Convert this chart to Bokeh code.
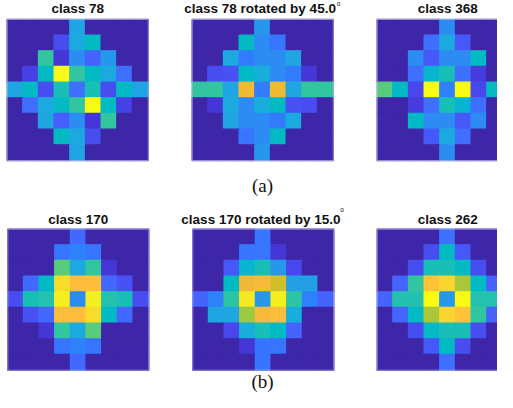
from bokeh.plotting import figure
from bokeh.models import Range1d, ColumnDataSource, LinearColorMapper, Label
from bokeh.transform import transform
from bokeh.embed import file_html
from bokeh.resources import INLINE

# ---------------- data ----------------
titles = ["class 78", "class 78 rotated by 45.0", "class 368",
          "class 170", "class 170 rotated by 15.0", "class 262"]
captions = ["(a)", "(b)"]

class_78 = [
    [0, 0, 0, 0, 0.39, 0, 0, 0, 0],
    [0, 0, 0, 0.14, 0.40, 0.48, 0, 0, 0],
    [0, 0, 0.56, 0.07, 0.31, 0.20, 0.34, 0, 0],
    [0, 0.10, 0.47, 1.0, 0.56, 0.48, 0.40, 0.22, 0],
    [0.39, 0.47, 0.14, 0.51, 0.22, 0.51, 0.14, 0.47, 0.39],
    [0, 0.22, 0.40, 0.48, 0.56, 1.0, 0.47, 0.10, 0],
    [0, 0, 0.38, 0.18, 0.31, 0.07, 0.56, 0, 0],
    [0, 0, 0, 0.48, 0.40, 0.14, 0, 0, 0],
    [0, 0, 0, 0, 0.39, 0, 0, 0, 0],
]
class_78_rot45 = [
    [0, 0, 0, 0, 0.33, 0, 0, 0, 0],
    [0, 0, 0, 0.48, 0.31, 0.24, 0, 0, 0],
    [0, 0, 0.40, 0.25, 0.30, 0.31, 0.38, 0, 0],
    [0, 0.14, 0.15, 0.47, 0.42, 0.31, 0.26, 0.07, 0],
    [0.56, 0.56, 0.39, 0.80, 0.25, 0.80, 0.39, 0.56, 0.56],
    [0, 0.07, 0.40, 0.31, 0.42, 0.47, 0.15, 0.14, 0],
    [0, 0, 0.38, 0.31, 0.30, 0.25, 0.40, 0, 0],
    [0, 0, 0, 0.24, 0.31, 0.48, 0, 0, 0],
    [0, 0, 0, 0, 0.33, 0, 0, 0, 0],
]
class_368 = [
    [0, 0, 0, 0, 0.31, 0, 0, 0, 0],
    [0, 0, 0, 0.22, 0.40, 0.17, 0, 0, 0],
    [0, 0, 0.31, 0.17, 0.31, 0.31, 0.47, 0, 0],
    [0, 0, 0.22, 0.45, 0.51, 0.22, 0.08, 0, 0],
    [0.61, 0.47, 0.12, 1.0, 0.27, 1.0, 0.12, 0.47, 0.61],
    [0, 0, 0.08, 0.22, 0.51, 0.45, 0.22, 0, 0],
    [0, 0, 0.47, 0.31, 0.31, 0.17, 0.31, 0, 0],
    [0, 0, 0, 0.17, 0.40, 0.22, 0, 0, 0],
    [0, 0, 0, 0, 0.31, 0, 0, 0, 0],
]
class_170 = [
    [0, 0, 0, 0, 0.21, 0, 0, 0, 0],
    [0, 0, 0, 0.24, 0.27, 0.24, 0, 0, 0],
    [0, 0, 0, 0.61, 0.40, 0.56, 0.07, 0, 0],
    [0, 0.21, 0.48, 0.92, 0.83, 0.83, 0.21, 0.15, 0],
    [0.14, 0.51, 0.53, 0.96, 0.31, 0.96, 0.53, 0.51, 0.14],
    [0, 0.15, 0.21, 0.83, 0.83, 0.92, 0.48, 0.21, 0],
    [0, 0, 0.07, 0.56, 0.40, 0.61, 0, 0, 0],
    [0, 0, 0, 0.24, 0.27, 0.24, 0, 0, 0],
    [0, 0, 0, 0, 0.21, 0, 0, 0, 0],
]
class_170_rot15 = [
    [0, 0, 0, 0, 0.24, 0, 0, 0, 0],
    [0, 0, 0, 0.24, 0.24, 0.07, 0, 0, 0],
    [0, 0, 0.17, 0.44, 0.51, 0.33, 0.12, 0, 0],
    [0, 0, 0.48, 0.80, 0.82, 0.76, 0.36, 0.37, 0],
    [0.20, 0.28, 0.54, 0.94, 0.33, 0.96, 0.54, 0.28, 0.20],
    [0, 0.38, 0.38, 0.70, 0.82, 0.83, 0.42, 0, 0],
    [0, 0, 0.12, 0.42, 0.51, 0.48, 0.20, 0, 0],
    [0, 0, 0, 0.07, 0.24, 0.24, 0, 0, 0],
    [0, 0, 0, 0, 0.24, 0, 0, 0, 0],
]
class_262 = [
    [0, 0, 0, 0, 0.22, 0, 0, 0, 0],
    [0, 0, 0, 0.14, 0.47, 0.16, 0, 0, 0],
    [0, 0, 0.14, 0.51, 0.50, 0.48, 0.14, 0, 0],
    [0, 0.20, 0.56, 0.85, 0.90, 0.71, 0.47, 0.20, 0],
    [0.20, 0.53, 0.53, 1.0, 0.33, 1.0, 0.53, 0.53, 0.20],
    [0, 0.20, 0.47, 0.71, 0.90, 0.85, 0.56, 0.20, 0],
    [0, 0, 0.14, 0.48, 0.50, 0.51, 0.14, 0, 0],
    [0, 0, 0, 0.16, 0.47, 0.14, 0, 0, 0],
    [0, 0, 0, 0, 0.22, 0, 0, 0, 0],
]
maps = [class_78, class_78_rot45, class_368, class_170, class_170_rot15, class_262]

# ---------------- style ----------------
parula_rgb = [
    (0.2422, 0.1504, 0.6603), (0.2504, 0.1650, 0.7076), (0.2578, 0.1818, 0.7511), (0.2647, 0.1978, 0.7952),
    (0.2706, 0.2147, 0.8364), (0.2751, 0.2342, 0.8710), (0.2783, 0.2559, 0.8991), (0.2803, 0.2782, 0.9221),
    (0.2813, 0.3006, 0.9414), (0.2810, 0.3228, 0.9579), (0.2795, 0.3447, 0.9717), (0.2760, 0.3667, 0.9829),
    (0.2699, 0.3892, 0.9906), (0.2602, 0.4123, 0.9952), (0.2440, 0.4358, 0.9988), (0.2206, 0.4603, 0.9973),
    (0.1963, 0.4847, 0.9892), (0.1834, 0.5074, 0.9798), (0.1786, 0.5289, 0.9682), (0.1764, 0.5499, 0.9520),
    (0.1687, 0.5703, 0.9359), (0.1540, 0.5902, 0.9218), (0.1460, 0.6091, 0.9079), (0.1380, 0.6276, 0.8973),
    (0.1248, 0.6459, 0.8883), (0.1113, 0.6635, 0.8763), (0.0952, 0.6798, 0.8598), (0.0689, 0.6948, 0.8394),
    (0.0297, 0.7082, 0.8163), (0.0036, 0.7203, 0.7917), (0.0067, 0.7312, 0.7660), (0.0433, 0.7411, 0.7394),
    (0.0964, 0.7500, 0.7120), (0.1408, 0.7584, 0.6842), (0.1717, 0.7670, 0.6554), (0.1938, 0.7758, 0.6251),
    (0.2161, 0.7843, 0.5923), (0.2470, 0.7918, 0.5567), (0.2906, 0.7973, 0.5188), (0.3406, 0.8008, 0.4789),
    (0.3909, 0.8029, 0.4354), (0.4456, 0.8024, 0.3909), (0.5044, 0.7993, 0.3480), (0.5616, 0.7942, 0.3045),
    (0.6174, 0.7876, 0.2612), (0.6720, 0.7793, 0.2227), (0.7242, 0.7698, 0.1910), (0.7738, 0.7598, 0.1646),
    (0.8203, 0.7498, 0.1535), (0.8634, 0.7406, 0.1596), (0.9035, 0.7330, 0.1774), (0.9393, 0.7288, 0.2100),
    (0.9728, 0.7298, 0.2394), (0.9956, 0.7434, 0.2371), (0.9970, 0.7659, 0.2199), (0.9952, 0.7893, 0.2028),
    (0.9892, 0.8136, 0.1885), (0.9786, 0.8386, 0.1766), (0.9676, 0.8639, 0.1643), (0.9610, 0.8890, 0.1537),
    (0.9597, 0.9135, 0.1423), (0.9628, 0.9373, 0.1265), (0.9691, 0.9606, 0.1064), (0.9769, 0.9839, 0.0805),
]
palette = ["#%02x%02x%02x" % tuple(int(round(c * 255)) for c in rgb) for rgb in parula_rgb]
mapper = LinearColorMapper(palette=palette, low=0.0, high=1.0)

# layout in picture pixels (figure frame spans x 0..497, y 0..392)
panel_left = [6.7, 191.7, 376.7, 7.3, 192.3, 376.7]
panel_top = [19.0, 19.0, 19.0, 228.7, 228.7, 228.7]
panel_size = 141.0
title_y = [8.4, 8.4, 8.4, 218.8, 218.8, 218.8]
title_dx = [0, -2.6, 0, 0, -2.4, 0]
degree_pos = {1: (336.3, 2.6), 4: (339.8, 209.3)}
caption_pos = [(262.0, 185.0), (262.0, 380.5)]

p = figure(width=497, height=392, output_backend="svg", toolbar_location=None,
           x_range=Range1d(0, 497), y_range=Range1d(392, 0),
           min_border=0, outline_line_color=None,
           x_axis_location=None, y_axis_location=None)
p.xgrid.visible = False
p.ygrid.visible = False
p.background_fill_color = "white"
p.border_fill_color = "white"

n = 9
cell = panel_size / n
for k, grid in enumerate(maps):
    xs, ys, vs = [], [], []
    for r in range(n):
        for c in range(n):
            xs.append(panel_left[k] + (c + 0.5) * cell)
            ys.append(panel_top[k] + (r + 0.5) * cell)
            vs.append(grid[r][c])
    src = ColumnDataSource(dict(x=xs, y=ys, v=vs))
    p.rect(x="x", y="y", width=cell, height=cell, source=src,
           fill_color=transform("v", mapper), line_color=transform("v", mapper),
           line_width=1.4)
    p.rect(x=[panel_left[k] + panel_size / 2], y=[panel_top[k] + panel_size / 2],
           width=panel_size, height=panel_size, fill_color=None,
           line_color="#aeaadf", line_width=1, line_alpha=0.8)
    p.add_layout(Label(x=panel_left[k] + panel_size / 2 + title_dx[k], y=title_y[k],
                       text=titles[k], text_align="center", text_baseline="alphabetic",
                       text_font="Liberation Sans", text_font_style="bold",
                       text_font_size="13.5px", text_color="#111111"))
    if k in degree_pos:
        dx, dy = degree_pos[k]
        p.add_layout(Label(x=dx, y=dy, text="o", text_align="left",
                           text_baseline="alphabetic", text_font="Liberation Sans",
                           text_font_size="6.5px", text_color="#111111"))

for cap, (cx, cy) in zip(captions, caption_pos):
    p.add_layout(Label(x=cx, y=cy, text=cap, text_align="center",
                       text_baseline="alphabetic", text_font="Liberation Serif",
                       text_font_size="19px", text_color="#111111"))

open("out.html", "w").write(file_html(p, INLINE))
